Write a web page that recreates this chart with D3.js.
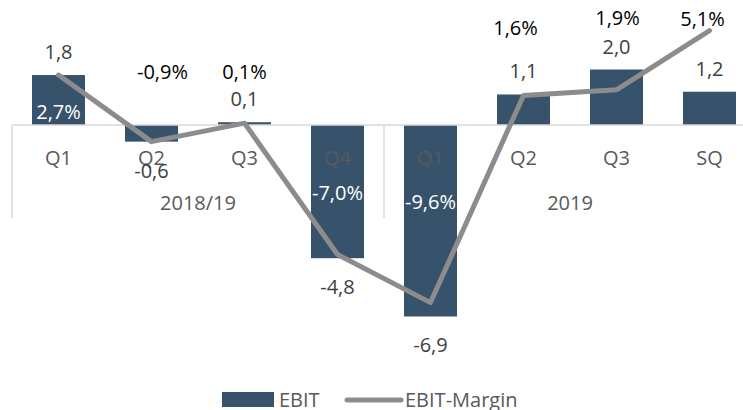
<!DOCTYPE html>
<html>
<head>
<meta charset="utf-8">
<script src="https://cdn.jsdelivr.net/npm/d3@7"></script>
<style>
  body { margin: 0; background: #fff; }
  svg { display: block; font-family: "Open Sans", "Noto Sans", sans-serif; }
</style>
</head>
<body>
<svg id="chart" width="743" height="410"></svg>
<script>
// data
var quarters = ["Q1", "Q2", "Q3", "Q4", "Q1", "Q2", "Q3", "SQ"];
var periodLabels = ["2018/19", "2019"];
var periodSpan = [4, 4];
var ebit = [1.8, -0.6, 0.1, -4.8, -6.9, 1.1, 2.0, 1.2];
var margin = [2.7, -0.9, 0.1, -7.0, -9.6, 1.6, 1.9, 5.1];
var ebitDomain = [-8, 4];
var marginDomain = [-12, 6];

// label nudges for the margin labels (pixels, hand placed like the source)
var marginLabelDx = [0, 11, 0, 0, 0, -8, 1, -7];
var marginLabelDy = [37, -70, -51, -62, -101, -67, -72, -12];

var svg = d3.select("#chart");
var barColor = "#36536b", lineColor = "#8c8c8c";
var fs = 20;

var loc = d3.formatLocale({decimal: ",", thousands: ".", grouping: [3], currency: ["", ""], minus: "-"});
var fmt = loc.format(".1f");

var idx = d3.range(quarters.length);
var x = d3.scaleBand().domain(idx).range([12, 756]).paddingInner(0.43).paddingOuter(0.215);
var step = x.step();
var y = d3.scaleLinear().domain(ebitDomain).range([347, 14]);
var y2 = d3.scaleLinear().domain(marginDomain).range([347, 14]);
var zero = y(0);

// bars
svg.append("g").selectAll("rect").data(idx).enter().append("rect")
    .attr("x", function(i){ return x(i); })
    .attr("width", x.bandwidth())
    .attr("y", function(i){ return Math.min(y(ebit[i]), zero); })
    .attr("height", function(i){ return Math.abs(y(ebit[i]) - zero); })
    .attr("fill", barColor);

// category axis
var axis = svg.append("g");
axis.append("line").attr("x1", 12).attr("x2", 743).attr("y1", zero).attr("y2", zero)
    .attr("stroke", "#d9d9d9").attr("stroke-width", 1.5);
var bounds = [0];
periodSpan.forEach(function(n){ bounds.push(bounds[bounds.length - 1] + n); });
bounds.slice(0, -1).forEach(function(b){
    var bx = x(b) - step * x.paddingOuter();
    axis.append("line").attr("x1", bx).attr("x2", bx).attr("y1", zero).attr("y2", 218)
        .attr("stroke", "#d9d9d9").attr("stroke-width", 1.5);
});
axis.selectAll("text.q").data(idx).enter().append("text").attr("class", "q")
    .attr("x", function(i){ return x(i) + x.bandwidth() / 2; })
    .attr("y", 158).attr("dy", "0.35em")
    .attr("text-anchor", "middle").attr("font-size", fs).attr("fill", "#595959")
    .text(function(i){ return quarters[i]; });
axis.selectAll("text.p").data(periodLabels).enter().append("text").attr("class", "p")
    .attr("x", function(d, j){
        var a = x(bounds[j]) - step * x.paddingOuter();
        return a + step * periodSpan[j] / 2;
    })
    .attr("y", 203).attr("dy", "0.35em")
    .attr("text-anchor", "middle").attr("font-size", fs).attr("fill", "#595959")
    .text(function(d){ return d; });

// margin line
var line = d3.line()
    .x(function(i){ return x(i) + x.bandwidth() / 2; })
    .y(function(i){ return y2(margin[i]); });
svg.append("path").datum(idx).attr("d", line)
    .attr("fill", "none").attr("stroke", lineColor).attr("stroke-width", 5)
    .attr("stroke-linejoin", "round").attr("stroke-linecap", "round");

// ebit value labels
svg.append("g").selectAll("text").data(idx).enter().append("text")
    .attr("x", function(i){ return x(i) + x.bandwidth() / 2; })
    .attr("y", function(i){ return ebit[i] >= 0 ? y(ebit[i]) - 23 : y(ebit[i]) + 29; })
    .attr("dy", "0.35em")
    .attr("text-anchor", "middle").attr("font-size", fs).attr("fill", "#404040")
    .text(function(i){ return fmt(ebit[i]); });

// margin labels, white when sitting on a bar
svg.append("g").selectAll("text").data(idx).enter().append("text")
    .attr("x", function(i){ return x(i) + x.bandwidth() / 2 + marginLabelDx[i]; })
    .attr("y", function(i){ return y2(margin[i]) + marginLabelDy[i]; })
    .attr("dy", "0.35em")
    .attr("text-anchor", "middle").attr("font-size", fs).attr("fill", function(i){
        var ly = y2(margin[i]) + marginLabelDy[i];
        var top = Math.min(y(ebit[i]), zero), bot = Math.max(y(ebit[i]), zero);
        return (ly > top && ly < bot) ? "#fff" : "#000";
    })
    .text(function(i){ return fmt(margin[i]) + "%"; });

// legend
var lg = svg.append("g");
lg.append("rect").attr("x", 222).attr("y", 392).attr("width", 52).attr("height", 15).attr("fill", barColor);
lg.append("text").attr("x", 279).attr("y", 400).attr("dy", "0.35em")
    .attr("font-size", fs).attr("fill", "#595959").text("EBIT");
lg.append("line").attr("x1", 347).attr("x2", 401).attr("y1", 400).attr("y2", 400)
    .attr("stroke", lineColor).attr("stroke-width", 5).attr("stroke-linecap", "round");
lg.append("text").attr("x", 405).attr("y", 400).attr("dy", "0.35em")
    .attr("font-size", fs).attr("fill", "#595959").text("EBIT-Margin");
</script>
</body>
</html>
